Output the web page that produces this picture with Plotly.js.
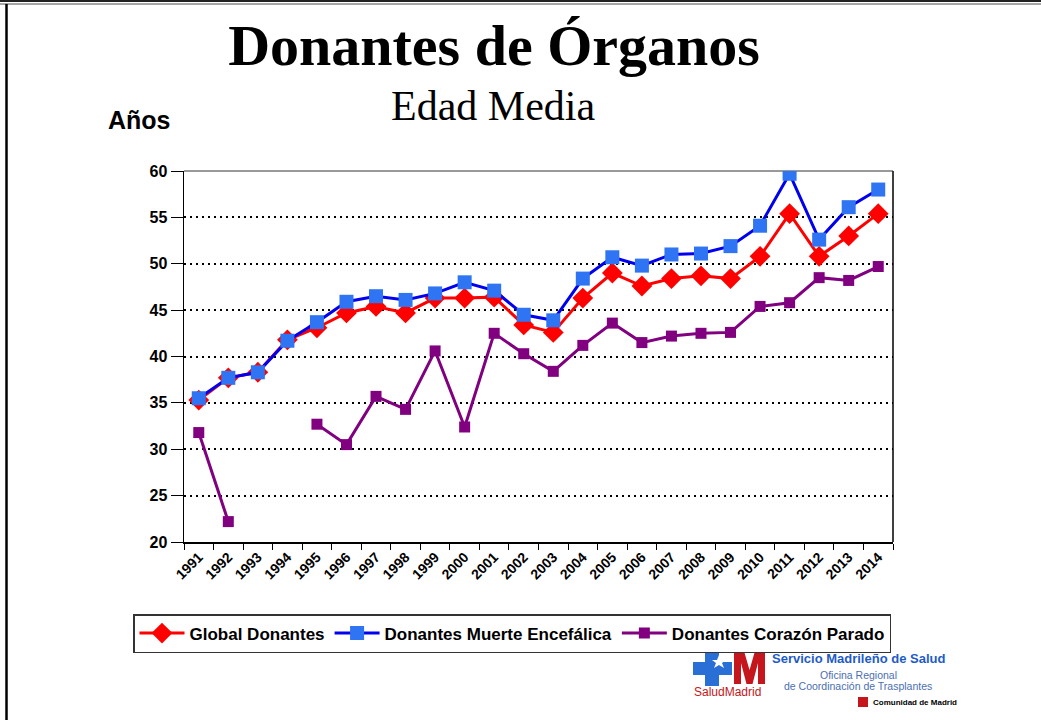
<!DOCTYPE html>
<html>
<head>
<meta charset="utf-8">
<script src="https://cdn.plot.ly/plotly-3.0.1.min.js"></script>
<style>html,body{margin:0;padding:0;background:#fff;}#chart{width:1041px;height:720px;}</style>
</head>
<body>
<div id="chart"></div>
<script>
// ---- Data ----
const years = ["1991","1992","1993","1994","1995","1996","1997","1998","1999","2000","2001","2002","2003","2004","2005","2006","2007","2008","2009","2010","2011","2012","2013","2014"];
const globalDonantes = [35.3,37.7,38.3,41.8,43.1,44.7,45.4,44.7,46.3,46.3,46.4,43.4,42.6,46.3,49.0,47.6,48.4,48.7,48.4,50.8,55.4,50.8,53.0,55.4];
const muerteEncefalica = [35.5,37.7,38.3,41.7,43.7,45.9,46.5,46.1,46.8,48.0,47.1,44.5,43.9,48.4,50.7,49.8,51.0,51.1,51.9,54.1,59.7,52.6,56.1,58.0];
const corazonParado = [31.8,22.2,null,null,32.7,30.5,35.7,34.3,40.6,32.4,42.5,40.3,38.4,41.2,43.6,41.5,42.2,42.5,42.6,45.4,45.8,48.5,48.2,49.7];
const seriesNames = ["Global Donantes","Donantes Muerte Encefálica","Donantes Corazón Parado"];

// ---- Geometry helpers (pixel -> paper) ----
const W = 1041, H = 720;
const L = 184, R = 893, T = 171, B = 542;
const px = x => (x - L) / (R - L);
const py = y => (B - y) / (B - T);

const traces = [
  {x: years, y: globalDonantes, name: seriesNames[0], type: 'scatter', mode: 'lines+markers',
   line: {color: '#ff0000', width: 3}, marker: {symbol: 'diamond', size: 16, color: '#ff0000'}},
  {x: years, y: muerteEncefalica, name: seriesNames[1], type: 'scatter', mode: 'lines+markers',
   line: {color: '#0000ee', width: 3}, marker: {symbol: 'square', size: 14, color: '#2f74f2'}},
  {x: years, y: corazonParado, name: seriesNames[2], type: 'scatter', mode: 'lines+markers', connectgaps: false,
   line: {color: '#800080', width: 3}, marker: {symbol: 'square', size: 11, color: '#800080'}}
];

const bold = {family: 'Arial, "Liberation Sans", sans-serif', weight: 'bold', color: '#000'};

function poly(pts) {
  return 'M' + pts.map(p => px(p[0]) + ',' + py(p[1])).join(' L') + ' Z';
}

const shapes = [
  // page frame
  {type: 'line', xref: 'paper', yref: 'paper', x0: px(0), x1: px(W), y0: py(1), y1: py(1), line: {color: '#222', width: 2}},
  {type: 'line', xref: 'paper', yref: 'paper', x0: px(0), x1: px(W), y0: py(4), y1: py(4), line: {color: '#888', width: 1.5}},
  {type: 'line', xref: 'paper', yref: 'paper', x0: px(6.5), x1: px(6.5), y0: py(4), y1: py(H), line: {color: '#000', width: 2.5}},
  // top border of plot area
  {type: 'line', xref: 'paper', yref: 'paper', x0: 0, x1: 1, y0: 1, y1: 1, line: {color: '#777', width: 1.5}, layer: 'below'},
  // right border of plot area
  {type: 'line', xref: 'paper', yref: 'paper', x0: 1, x1: 1, y0: 0, y1: 1, line: {color: '#000', width: 1.5}},
  // logo: blue cross
  {type: 'path', xref: 'paper', yref: 'paper', fillcolor: '#2a6fd6', line: {width: 0},
   path: poly([[705,651],[719,651],[719,662],[732,662],[732,675],[719,675],[719,686],[705,686],[705,675],[693,675],[693,662],[705,662]])},
  // white star in the logo
  {type: 'path', xref: 'paper', yref: 'paper', fillcolor: '#ffffff', line: {width: 0},
   path: poly([[719,655],[721,660],[726,660],[722,663],[724,668],[719,665],[714,668],[716,663],[712,660],[717,660]])},
  // logo: red M
  {type: 'path', xref: 'paper', yref: 'paper', fillcolor: '#c4161c', line: {width: 0},
   path: poly([[734,684],[734,651],[744,651],[749.5,670],[755,651],[765,651],[765,684],[758,684],[758,663],[752.5,684],[746.5,684],[741,663],[741,684]])},
  // Comunidad de Madrid red square
  {type: 'rect', xref: 'paper', yref: 'paper', x0: px(858), x1: px(868), y0: py(697), y1: py(707), fillcolor: '#c4161c', line: {width: 0}}
];

const annotations = [
  {text: 'Edad Media', xref: 'paper', yref: 'paper', x: px(493), y: py(106), xanchor: 'center', yanchor: 'middle', showarrow: false,
   font: {family: '"Times New Roman", "Liberation Serif", serif', size: 42, color: '#000'}},
  {text: 'Años', xref: 'paper', yref: 'paper', x: px(139), y: py(120), xanchor: 'center', yanchor: 'middle', showarrow: false,
   font: Object.assign({}, bold, {size: 25})},
  {text: 'SaludMadrid', xref: 'paper', yref: 'paper', x: px(727), y: py(692), xanchor: 'center', yanchor: 'middle', showarrow: false,
   font: {family: 'Arial, "Liberation Sans", sans-serif', size: 12, color: '#c4161c'}},
  {text: 'Servicio Madrileño de Salud', xref: 'paper', yref: 'paper', x: px(858), y: py(658), xanchor: 'center', yanchor: 'middle', showarrow: false,
   font: {family: 'Arial, "Liberation Sans", sans-serif', weight: 'bold', size: 13, color: '#1e5bc6'}},
  {text: 'Oficina Regional', xref: 'paper', yref: 'paper', x: px(858), y: py(675), xanchor: 'center', yanchor: 'middle', showarrow: false,
   font: {family: 'Arial, "Liberation Sans", sans-serif', size: 10.5, color: '#4a6fb0'}},
  {text: 'de Coordinación de Trasplantes', xref: 'paper', yref: 'paper', x: px(858), y: py(686), xanchor: 'center', yanchor: 'middle', showarrow: false,
   font: {family: 'Arial, "Liberation Sans", sans-serif', size: 10.5, color: '#4a6fb0'}},
  {text: 'Comunidad de Madrid', xref: 'paper', yref: 'paper', x: px(871), y: py(702), xanchor: 'left', yanchor: 'middle', showarrow: false,
   font: {family: 'Arial, "Liberation Sans", sans-serif', weight: 'bold', size: 8, color: '#000'}}
];

const layout = {
  width: W, height: H,
  margin: {l: L, r: W - R, t: T, b: H - B, pad: 0},
  paper_bgcolor: '#fff', plot_bgcolor: '#fff',
  title: {text: 'Donantes de Órganos', xref: 'paper', yref: 'container', x: px(494), xanchor: 'center', y: 1 - 45 / H, yanchor: 'middle',
          font: {family: '"Times New Roman", "Liberation Serif", serif', weight: 'bold', size: 58, color: '#000'}},
  showlegend: true,
  legend: {orientation: 'h', xref: 'paper', yref: 'paper', x: px(133), xanchor: 'left', y: py(614), yanchor: 'top',
           bgcolor: '#fff', bordercolor: '#333', borderwidth: 1.5,
           font: Object.assign({}, bold, {size: 17}), itemwidth: 45, tracegroupgap: 0},
  xaxis: {type: 'category', range: [-0.5, 23.5], tickson: 'boundaries', ticks: 'outside', ticklen: 6, tickcolor: '#000', tickwidth: 1,
          showline: true, linecolor: '#000', linewidth: 1.5, showgrid: false, zeroline: false,
          tickangle: -45, tickfont: Object.assign({}, bold, {size: 14}), fixedrange: true},
  yaxis: {range: [20, 60], dtick: 5, ticks: 'outside', ticklen: 12, tickcolor: '#000', tickwidth: 1,
          showline: true, mirror: false, linecolor: '#000', linewidth: 1.5,
          showgrid: true, gridcolor: '#000', gridwidth: 2, griddash: '2px,4px', zeroline: false,
          tickfont: Object.assign({}, bold, {size: 16}), fixedrange: true},
  shapes: shapes,
  annotations: annotations
};

Plotly.newPlot('chart', traces, layout, {displayModeBar: false, staticPlot: true});
</script>
</body>
</html>
